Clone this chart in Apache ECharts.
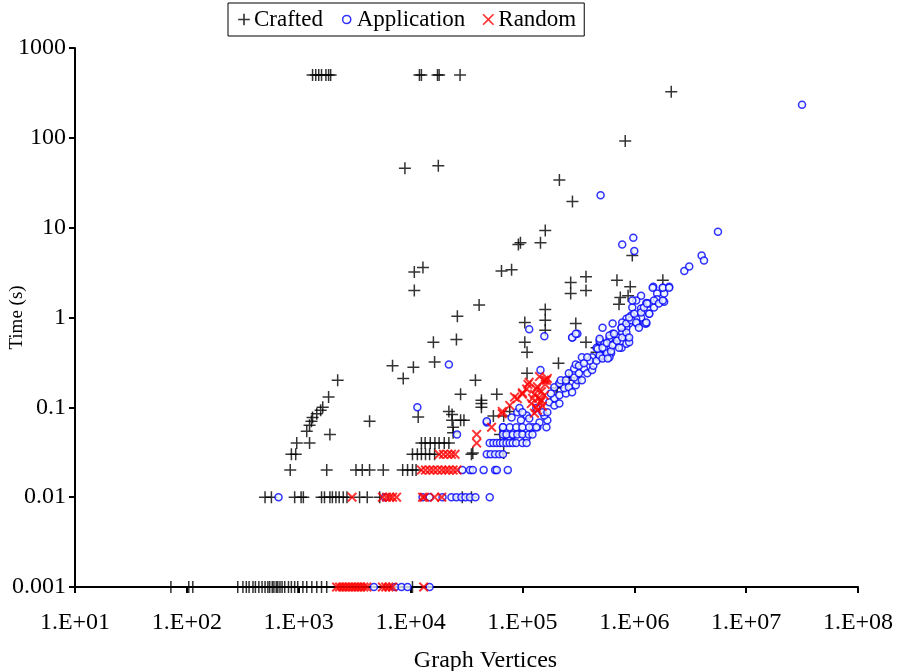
<!DOCTYPE html>
<html>
<head>
<meta charset="utf-8">
<script src="https://cdn.jsdelivr.net/npm/echarts@6/dist/echarts.min.js"></script>
<style>
html,body{margin:0;padding:0;background:#fff;}
#chart{width:897px;height:671px;}
</style>
</head>
<body>
<div id="chart"></div>
<script>
// Series names
const seriesNames = ['Crafted', 'Application', 'Random'];
// Axis tick values
const xTicks = [1e1, 1e2, 1e3, 1e4, 1e5, 1e6, 1e7, 1e8];
const yTicks = [0.001, 0.01, 0.1, 1, 10, 100, 1000];

// Crafted: [vertices, time(s)]
const crafted = [
 [1.33e3,500],[1.42e3,500],[1.51e3,500],[1.6e3,500],[1.75e3,500],[1.85e3,500],[1.93e3,500],
 [1.2e4,500],[1.25e4,500],[1.74e4,500],[1.8e4,500],[2.77e4,500],
 [8.9e3,46],[1.77e4,49],[2.14e6,325],[8.3e5,92],[2.14e5,34],[2.8e5,19.5],
 [1.6e5,9.3],[9.2e4,6.5],[9.6e4,6.8],[1.45e5,6.8],[8e4,3.4],[6.5e4,3.3],
 [9.6e5,4.9],[1.8e6,2.6],[2.7e5,2.45],[2.7e5,1.85],[3.7e5,2.85],[3.7e5,2.0],[7e5,2.6],[9.2e5,2.2],
 [7.5e5,1.67],[8.8e5,1.75],[7.3e5,1.4],[1.6e5,1.23],[1.6e5,0.93],[1.6e5,0.72],
 [1.05e5,0.88],[1.05e5,0.53],[1.1e5,0.41],[3e5,0.86],[3.7e5,0.53],[4.6e5,0.46],[4.6e5,0.41],
 [2.1e5,0.31],[4.1e4,1.38],[1.29e4,3.6],[1.08e4,3.2],[1.08e4,2.0],
 [2.62e4,1.03],[1.6e4,0.53],[2.57e4,0.57],[1.64e4,0.32],[6.9e3,0.29],[1.06e4,0.28],[8.6e3,0.21],
 [3.8e4,0.2],[2.23e3,0.2],[1.85e3,0.13],[2.8e4,0.14],
 [1.1e5,0.24],[2.6e5,0.215],[2.6e5,0.2],[2.0e5,0.165],[2.05e5,0.165],
 [5.9e4,0.14],[4.3e4,0.12],[4.3e4,0.11],[4.3e4,0.1],[7.7e4,0.09],[5.5e4,0.08],[6.8e4,0.08],
 [3.0e4,0.072],[6.3e4,0.05],[3.6e4,0.031],[6.8e4,0.031],
 [1.64e3,0.1],[1.57e3,0.093],[1.45e3,0.085],[1.33e3,0.077],[1.3e3,0.07],[1.25e3,0.063],[1.18e3,0.054],
 [1.9e3,0.05],[4.3e3,0.07],[1.17e4,0.078],
 [2.2e4,0.09],[2.35e4,0.083],[2.8e4,0.072],[2.35e4,0.072],[2.4e4,0.06],[2.4e4,0.052],
 [9.6e2,0.04],[1.25e3,0.04],[1.25e4,0.04],[1.35e4,0.04],[1.5e4,0.04],[1.65e4,0.04],[1.8e4,0.04],[2.0e4,0.04],[2.2e4,0.04],
 [8.6e2,0.03],[9.4e2,0.03],[1.04e4,0.03],[1.15e4,0.03],[1.25e4,0.03],[1.36e4,0.03],[1.48e4,0.03],[1.64e4,0.03],[3.5e4,0.03],
 [8.4e2,0.02],[1.78e3,0.02],[3.25e3,0.02],[3.7e3,0.02],[4.3e3,0.02],[5.7e3,0.02],[8.5e3,0.02],[9.4e3,0.02],[1.04e4,0.02],[1.12e4,0.02],
 [5.0e2,0.01],[5.7e2,0.01],[9.2e2,0.01],[1.05e3,0.01],[1.1e3,0.01],[1.6e3,0.01],[1.7e3,0.01],[1.9e3,0.01],[2.0e3,0.01],
 [2.15e3,0.01],[2.3e3,0.01],[2.5e3,0.01],[2.7e3,0.01],[3.5e3,0.01],[4.1e3,0.01],[5.3e3,0.01],[2.9e4,0.01],[3.5e4,0.01],
 [7.2e1,0.001],[1.04e2,0.001],[1.13e2,0.001],[2.85e2,0.001],[3.17e2,0.001],[3.4e2,0.001],[3.6e2,0.001],[3.9e2,0.001],
 [4.1e2,0.001],[4.4e2,0.001],[4.7e2,0.001],[5.0e2,0.001],[5.3e2,0.001],[5.5e2,0.001],[5.8e2,0.001],[6.0e2,0.001],
 [6.3e2,0.001],[6.5e2,0.001],[6.8e2,0.001],[7.1e2,0.001],[7.5e2,0.001],[8.1e2,0.001],[8.6e2,0.001],[9.2e2,0.001],
 [9.8e2,0.001],[1.09e3,0.001],[1.18e3,0.001],[1.31e3,0.001],[1.45e3,0.001],[1.6e3,0.001],[1.78e3,0.001],[1.04e4,0.001]
];

// Application: [vertices, time(s)]
const application = [
 [3.16e7,233],[5e5,23],[7.8e5,6.5],[9.8e5,7.7],[1e6,5.5],[5.6e6,9.0],[4e6,4.9],[4.2e6,4.3],[2.8e6,3.3],[3.1e6,3.7],
 [1.48e6,2.2],[1.8e6,2.15],[2.05e6,2.2],[1.15e6,1.75],[1.6e6,1.85],[1.6e6,1.6],[1.85e6,1.5],[1.04e6,1.55],[1.28e6,1.45],
 [1.36e6,1.43],[9.6e5,1.29],[1.15e6,1.26],[1.5e6,1.29],[1.36e6,1.1],[1.15e6,1.0],[9.4e5,1.05],[8.5e5,0.97],[1.04e6,0.97],
 [7.8e5,0.88],[9e5,0.86],[1.06e6,0.86],[1.28e6,0.86],[8.5e5,0.77],[7.7e5,0.77],[6.4e5,0.86],[5.2e5,0.77],[6.4e5,0.66],
 [7.2e5,0.6],[7.8e5,0.68],[8.7e5,0.6],[6e5,0.58],[4.9e5,0.55],[5.4e5,0.51],[6.6e5,0.51],[7.7e5,0.46],[8.5e5,0.51],
 [4.6e5,0.46],[5.4e5,0.45],[6.2e5,0.4],[4.2e5,0.36],[4.9e5,0.36],[3.4e5,0.36],[2.8e5,0.6],[3.1e5,0.66],[5.2e5,0.37],
 [6e5,0.36],[9e5,0.53],[1.25e6,0.86],
 [4.8e4,0.068],[6.7e4,0.06],[7.7e4,0.06],[8.8e4,0.06],[9.7e4,0.072],[9e4,0.088],[8e4,0.077],[1.09e5,0.081],[1.15e5,0.075],
 [1.23e5,0.06],[1.64e5,0.06],[1.67e5,0.072],[1.57e5,0.081],[1.33e5,0.098],[1.51e5,0.088],[1.67e5,0.088],[1.74e5,0.114],
 [1.93e5,0.105],[2.14e5,0.11],[1.93e5,0.126],[2.14e5,0.136],[2.45e5,0.143],[2.36e5,0.163],[2.6e5,0.167],[2.78e5,0.147],
 [3.0e5,0.176],[3.1e5,0.2],[3.4e5,0.2],[2.9e5,0.215],[3.2e5,0.24],[3.55e5,0.27],[3.8e5,0.24],[4.2e5,0.26],[4.3e5,0.29],
 [4e5,0.33],[4.6e5,0.33],[4.9e5,0.38],[5.2e5,0.35],[5.7e5,0.4],[5.8e5,0.35],[4.7e5,0.45],[5.2e5,0.46],[5.7e5,0.52],
 [4.9e5,0.58],[6.2e5,0.42],[6.4e5,0.49],[7e5,0.55],[7.3e5,0.46],[6e5,0.63],[6.6e5,0.66],[7.8e5,0.6],[8.5e5,0.68],
 [9e5,0.6],[7.7e5,0.77],[8.5e5,0.86],[9.4e5,0.93],[1.04e6,0.88],[1.1e6,0.77],[9e5,1.0],[1e6,1.1],[1.15e6,1.14],
 [1.22e6,1.29],[1.36e6,1.1],[1.28e6,0.88],[1.3e6,1.43],[1.5e6,1.55],[1.66e6,1.43],[1.8e6,1.55],[1.85e6,1.85],
 [1.46e6,2.15],[1.8e6,2.15],[2.05e6,2.15],[9.6e5,1.55],[1.15e5,0.74],[1.57e5,0.62],[2.78e5,0.6],[3e5,0.66],
 [7e4,0.049],[8.2e4,0.049],[9.8e4,0.051],[1.09e5,0.046],[9.4e4,0.098],[1e5,0.088],[1.36e5,0.06],[1.42e5,0.068],
 [1.45e5,0.26],[1.8e5,0.143],[1.93e5,0.167],[2.14e5,0.185],[2.2e5,0.2],[2.45e5,0.2],[2.6e5,0.24],[2.9e5,0.27],
 [3e5,0.3],[3.2e5,0.29],[3.55e5,0.31],[3.8e5,0.36],
 [2.6e4,0.05],[6.7e4,0.05],[7.2e4,0.05],[8.2e4,0.05],[9e4,0.05],[1.0e5,0.05],[1.14e5,0.05],[1.23e5,0.05],
 [6.7e4,0.06],[1.0e5,0.06],[1.15e5,0.06],[1.33e5,0.06],
 [5.1e4,0.04],[5.5e4,0.04],[5.9e4,0.04],[6.3e4,0.04],[6.7e4,0.04],[7.2e4,0.04],[7.7e4,0.04],[8.2e4,0.04],[8.8e4,0.04],[1.0e5,0.04],[1.09e5,0.04],
 [4.8e4,0.03],[5.2e4,0.03],[5.7e4,0.03],[6.2e4,0.03],[6.7e4,0.03],
 [2.9e4,0.02],[3.4e4,0.02],[3.6e4,0.02],[4.5e4,0.02],[5.7e4,0.02],[5.9e4,0.02],[7.4e4,0.02],
 [6.6e2,0.01],[5.9e3,0.01],[1.28e4,0.01],[1.48e4,0.01],[1.93e4,0.01],[2.32e4,0.01],[2.57e4,0.01],[2.85e4,0.01],
 [3.1e4,0.01],[3.4e4,0.01],[3.8e4,0.01],[5.1e4,0.01],
 [4.7e3,0.001],[7.3e3,0.001],[8.3e3,0.001],[9.4e3,0.001],[1.48e4,0.001],
 [4.8e4,0.07],[1.15e4,0.1],[2.2e4,0.3]
];

// Random: [vertices, time(s)]
const random = [
 [2.18e3,0.001],[2.32e3,0.001],[2.47e3,0.001],[2.63e3,0.001],[2.8e3,0.001],[2.98e3,0.001],[3.17e3,0.001],[3.37e3,0.001],
 [3.59e3,0.001],[3.82e3,0.001],[4.07e3,0.001],[5.6e3,0.001],[6.0e3,0.001],[6.4e3,0.001],[6.9e3,0.001],[1.31e4,0.001],
 [3.0e3,0.01],[5.6e3,0.01],[6.1e3,0.01],[6.5e3,0.01],[6.9e3,0.01],[7.5e3,0.01],[1.28e4,0.01],[1.33e4,0.01],[1.64e4,0.01],[1.9e4,0.01],
 [1.25e4,0.02],[1.36e4,0.02],[1.48e4,0.02],[1.6e4,0.02],[1.74e4,0.02],[1.9e4,0.02],[2.05e4,0.02],[2.2e4,0.02],[2.4e4,0.02],[2.6e4,0.02],
 [1.8e4,0.03],[1.97e4,0.03],[2.14e4,0.03],[2.32e4,0.03],[2.5e4,0.03],
 [3.9e4,0.05],[3.9e4,0.04],
 [5.3e4,0.06],[6.6e4,0.085],[6.6e4,0.09],[7.7e4,0.105],[8.5e4,0.13],[9e4,0.125],[1e5,0.14],[1.0e5,0.145],[1.09e5,0.16],
 [1.15e5,0.19],[1.12e5,0.18],[1.28e5,0.14],[1.36e5,0.17],[1.33e5,0.16],[1.42e5,0.22],[1.48e5,0.15],[1.57e5,0.2],
 [1.67e5,0.21],[1.64e5,0.2],[1.33e5,0.1],[1.28e5,0.086],[1.48e5,0.12],[1.57e5,0.136],[1.51e5,0.103],[1.2e5,0.11],
 [1.23e5,0.126],[1.36e5,0.093],[1.45e5,0.114],[1.6e5,0.18],[1.39e5,0.126]
];

const FONT = 'Liberation Serif';
const plusPath = 'path://M5.25,0h1.5v12h-1.5zM0,5.25h12v1.5h-12z';
const crossPath = 'path://M1.4,0L5,3.6L8.6,0L10,1.4L6.4,5L10,8.6L8.6,10L5,6.4L1.4,10L0,8.6L3.6,5L0,1.4Z';
const circleLegend = 'path://M0,0M12,12M9.5,6A3.5,3.5,0,1,1,2.5,6A3.5,3.5,0,1,1,9.5,6Z';
const crossLegend = 'path://M0,0M12,12M2,1L6,5L10,1L11,2L7,6L11,10L10,11L6,7L2,11L1,10L5,6L1,2Z';
const plusLegend = 'path://M0,0M12,12M5.3,1h1.4v10h-1.4zM1,5.3h10v1.4h-10z';

function fmtX(v) {
  const e = Math.round(Math.log10(v));
  return '1.E+' + (e < 10 ? '0' + e : String(e));
}
function fmtY(v) {
  return String(Number(Number(v).toPrecision(3)));
}

const chart = echarts.init(document.getElementById('chart'), null, {renderer: 'canvas'});
chart.setOption({
  animation: false,
  backgroundColor: '#fff',
  grid: {left: 75, right: 39, top: 48, bottom: 84, containLabel: false, outerBoundsMode: 'none'},
  legend: {
    left: 228, top: 3,
    orient: 'horizontal',
    borderColor: '#000', borderWidth: 1,
    padding: [5, 8, 5, 9],
    itemGap: 16, itemWidth: 14, itemHeight: 14,
    textStyle: {fontFamily: FONT, fontSize: 23, color: '#000', padding: [0, 0, 0, -2]},
    data: [
      {name: seriesNames[0], icon: plusLegend, itemStyle: {color: '#000', borderWidth: 0}},
      {name: seriesNames[1], icon: circleLegend, itemStyle: {color: '#fff', borderColor: '#0000ff', borderWidth: 1.5}},
      {name: seriesNames[2], icon: crossLegend, itemStyle: {color: '#ff0000', borderWidth: 0}}
    ]
  },
  xAxis: {
    type: 'log', logBase: 10, min: xTicks[0], max: xTicks[xTicks.length - 1],
    splitNumber: 7,
    axisLine: {onZero: false, lineStyle: {color: '#000', width: 2}},
    axisTick: {show: true, inside: false, length: 6, lineStyle: {color: '#000', width: 2}},
    minorTick: {show: false},
    splitLine: {show: false},
    axisLabel: {fontFamily: FONT, fontSize: 24, color: '#000', margin: 24, formatter: fmtX},
    name: 'Graph Vertices', nameLocation: 'middle', nameGap: 62,
    nameTextStyle: {fontFamily: FONT, fontSize: 24, color: '#000', padding: [0, 0, 0, 38]}
  },
  yAxis: {
    type: 'log', logBase: 10, min: yTicks[0], max: yTicks[yTicks.length - 1],
    axisLine: {onZero: false, lineStyle: {color: '#000', width: 2}},
    axisTick: {show: true, inside: false, length: 6, lineStyle: {color: '#000', width: 2}},
    minorTick: {show: false},
    splitLine: {show: false},
    axisLabel: {fontFamily: FONT, fontSize: 24, color: '#000', margin: 9, formatter: fmtY},
    name: 'Time (s)', nameLocation: 'middle', nameGap: 48, nameRotate: 90,
    nameMoveOverlap: false,
    nameTextStyle: {fontFamily: FONT, fontSize: 19, color: '#000'}
  },
  series: [
    {
      name: seriesNames[0], type: 'scatter', data: crafted,
      symbol: plusPath, symbolSize: 12,
      itemStyle: {color: '#000', borderWidth: 0}, z: 2
    },
    {
      name: seriesNames[1], type: 'scatter', data: application,
      symbol: 'circle', symbolSize: 7,
      itemStyle: {color: '#eef6ff', borderColor: '#0000ff', borderWidth: 1.5}, z: 3
    },
    {
      name: seriesNames[2], type: 'scatter', data: random,
      symbol: crossPath, symbolSize: 10,
      itemStyle: {color: '#ff0000', borderWidth: 0}, z: 4
    }
  ]
});
</script>
</body>
</html>
